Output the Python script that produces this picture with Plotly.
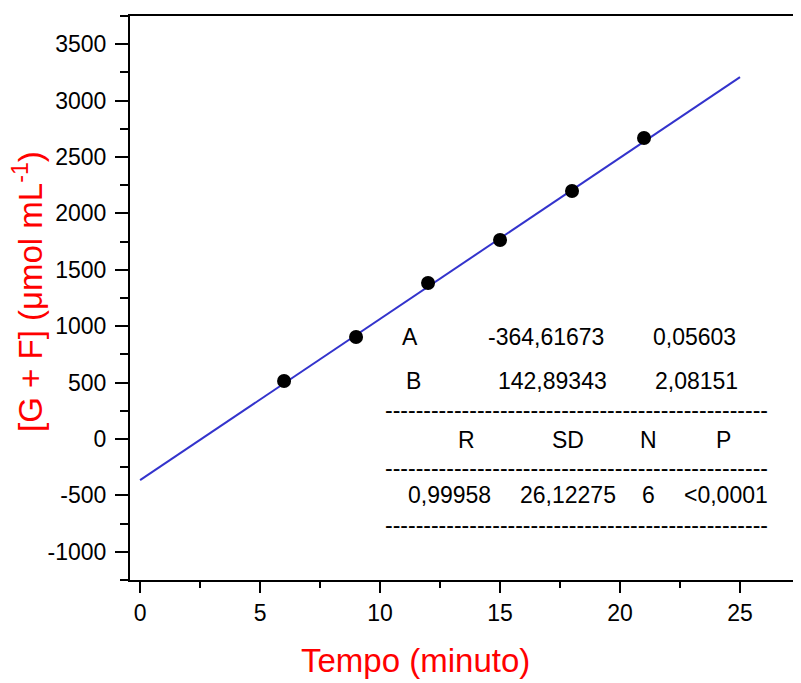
import plotly.graph_objects as go

# data
tempo = [6, 9, 12, 15, 18, 21]
conc = [514, 904, 1383, 1764, 2199, 2668]
fit_x = [0, 25]
fit_y = [-364.6, 3207.7]

x_ticks = [0, 5, 10, 15, 20, 25]
x_ticktext = ["0", "5", "10", "15", "20", "25"]
y_ticks = [-1000, -500, 0, 500, 1000, 1500, 2000, 2500, 3000, 3500]
y_ticktext = ["-1000", "-500", "0", "500", "1000", "1500", "2000", "2500", "3000", "3500"]

table_rows = [
    # (text, x, y) in data coordinates
    ("A", 11.25, 905), ("-364,61673", 16.9, 905), ("0,05603", 23.1, 905),
    ("B", 11.4, 515), ("142,89343", 17.2, 515), ("2,08151", 23.2, 515),
    ("R", 13.6, -5), ("SD", 17.85, -5), ("N", 21.2, -5), ("P", 24.3, -5),
    ("0,99958", 12.9, -500), ("26,12275", 17.85, -500), ("6", 21.2, -500), ("<0,0001", 24.4, -500),
]
dash_rows_y = [255, -260, -765]

fig = go.Figure()
fig.add_trace(go.Scatter(x=fit_x, y=fit_y, mode="lines",
                         line=dict(color="#3333cc", width=2), showlegend=False))
fig.add_trace(go.Scatter(x=tempo, y=conc, mode="markers",
                         marker=dict(color="black", size=14), showlegend=False))

font = "Liberation Sans, Arial, sans-serif"
for t, x, y in table_rows:
    fig.add_annotation(x=x, y=y, text=t, showarrow=False,
                       font=dict(family=font, size=23, color="black"))
for y in dash_rows_y:
    fig.add_annotation(x=18.2, y=y, text="-" * 50, showarrow=False,
                       font=dict(family=font, size=23, color="black"))

# axis titles
fig.add_annotation(xref="paper", yref="paper", x=0.426, y=-0.142, text="Tempo (minuto)",
                   showarrow=False, xanchor="center", yanchor="middle",
                   font=dict(family=font, size=33, color="red"))
fig.add_annotation(xref="paper", yref="paper", x=-0.152, y=0.511, text="[G + F] (μmol mL<sup>-1</sup>)",
                   showarrow=False, xanchor="center", yanchor="middle", textangle=-90,
                   font=dict(family=font, size=33, color="red"))

axis_common = dict(showgrid=False, zeroline=False, showline=True, linecolor="black",
                   linewidth=2, ticks="outside", tickcolor="black", tickwidth=2,
                   automargin=False,
                   tickfont=dict(family=font, size=23, color="black"))

fig.update_xaxes(range=[-0.42, 27.5], tickvals=x_ticks, ticktext=x_ticktext, ticklen=11, mirror=True,
                 minor=dict(dtick=2.5, tick0=0, ticks="outside", ticklen=6, tickwidth=2, tickcolor="black"),
                 **axis_common)
fig.update_yaxes(range=[-1250, 3750], tickvals=y_ticks, ticktext=y_ticktext, ticklen=13,
                 ticklabelstandoff=4,
                 minor=dict(dtick=250, tick0=0, ticks="outside", ticklen=8, tickwidth=2, tickcolor="black"),
                 **axis_common)

# small extensions of the top and bottom frame lines to the left
for yy in (0, 1):
    fig.add_shape(type="line", xref="paper", yref="paper", x0=-8 / 670, x1=0, y0=yy, y1=yy,
                  line=dict(color="black", width=2))

# page body has an 8px margin, so the figure is drawn 8px smaller and offset
fig.update_layout(width=793, height=675, margin=dict(l=122, r=1, t=8, b=103),
                  plot_bgcolor="white", paper_bgcolor="white")
fig.write_html("out.html")
